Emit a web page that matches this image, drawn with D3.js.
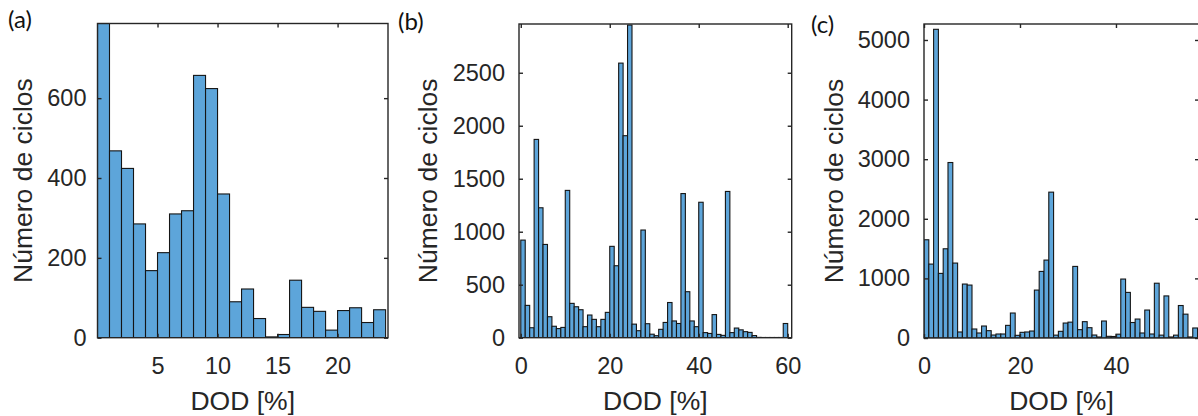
<!DOCTYPE html>
<html>
<head>
<meta charset="utf-8">
<script src="https://cdn.jsdelivr.net/npm/d3@7"></script>
<style>
  html, body { margin: 0; padding: 0; background: #fff; }
  svg { display: block; }
  .tick text { font-family: "Liberation Sans", Arial, Helvetica, sans-serif; fill: #262626; }
</style>
</head>
<body>
<svg id="chart" width="1198" height="416"></svg>
<script>
// ---------- DATA ----------
// Panel (a): histogram counts, bins of 1 % DOD starting at 0
const aCounts = [787, 468, 424, 285, 168, 213, 310, 318, 657, 624, 360, 90,
                 122, 48, 2, 8, 144, 76, 66, 19, 68, 75, 38, 70];
// Panel (b): histogram counts, bins of 1 % DOD starting at 0
const bCounts = [921, 305, 94, 1871, 1226, 880, 198, 108, 86, 97,
                 1390, 324, 292, 264, 104, 214, 173, 104, 173, 239,
                 862, 679, 2591, 1906, 2950, 128, 66, 1016, 132, 33,
                 19, 79, 144, 332, 158, 134, 1360, 434, 158, 104,
                 1278, 48, 40, 218, 31, 22, 1380, 48, 91, 74,
                 57, 50, 20, 3, 2, 2, 2, 2, 2, 134];
// Panel (c): histogram counts, bins of 1 % DOD starting at 0
const cCounts = [1648, 1240, 5179, 1084, 1497, 2944, 1257, 101, 905, 888,
                 151, 84, 201, 123, 50, 67, 67, 212, 419, 45,
                 95, 101, 117, 804, 1117, 1307, 2447, 48, 112, 251,
                 266, 1201, 140, 274, 173, 50, 17, 285, 28, 25,
                 64, 989, 765, 260, 318, 84, 469, 67, 919, 48,
                 706, 17, 48, 545, 400, 17, 168];
const binWidth = 1;

// Tick labels
const aXTicks = [5, 10, 15, 20];
const aYTicks = [0, 200, 400, 600];
const bXTicks = [0, 20, 40, 60];
const bYTicks = [0, 500, 1000, 1500, 2000, 2500];
const cXTicks = [0, 20, 40];
const cYTicks = [0, 1000, 2000, 3000, 4000, 5000];

const panelLetters = ["(a)", "(b)", "(c)"];
const xLabel = "DOD [%]";
const yLabel = "Número de ciclos";

// ---------- LAYOUT ----------
const panels = [
  { counts: aCounts, xt: aXTicks, yt: aYTicks, xd: [0, 24.2], yd: [0, 787],
    l: 97.5, r: 388, t: 23.5, b: 337.7, ypad: 11, ylabX: 31.5, letter: [8, 28] },
  { counts: bCounts, xt: bXTicks, yt: bYTicks, xd: [-0.4, 60.9], yd: [0, 2960],
    l: 519, r: 791.7, t: 24, b: 337.7, ypad: 14, ylabX: 436.5, letter: [398, 30] },
  { counts: cCounts, xt: cXTicks, yt: cYTicks, xd: [0, 57.3], yd: [0, 5268],
    l: 924, r: 1199, t: 24, b: 338, ypad: 14, ylabX: 843, letter: [811, 33] }
];

const svg = d3.select("#chart");
const FONT = '"Liberation Sans", Arial, Helvetica, sans-serif';
const AXC = "#262626";
const BAR = "#5DA5DA";
const fmt = d3.format("d");

panels.forEach((p, idx) => {
  const x = d3.scaleLinear().domain(p.xd).range([p.l, p.r]);
  const y = d3.scaleLinear().domain(p.yd).range([p.b, p.t]);
  const g = svg.append("g");

  const clipId = "clip" + idx;
  svg.append("clipPath").attr("id", clipId)
    .append("rect").attr("x", p.l).attr("y", p.t - 1)
    .attr("width", p.r - p.l).attr("height", p.b - p.t + 1);

  const bins = p.counts.map((v, i) => ({ x0: i * binWidth, x1: (i + 1) * binWidth, v }));

  g.append("g").attr("clip-path", `url(#${clipId})`)
    .selectAll("rect").data(bins).join("rect")
    .attr("x", d => x(d.x0))
    .attr("width", d => x(d.x1) - x(d.x0))
    .attr("y", d => y(d.v))
    .attr("height", d => y(0) - y(d.v))
    .attr("fill", BAR)
    .attr("stroke", "#151515")
    .attr("stroke-width", 1.1);

  const tickLen = 4;
  const gb = g.append("g").attr("transform", `translate(0,${p.b})`)
    .call(d3.axisBottom(x).tickValues(p.xt).tickSize(-tickLen).tickSizeOuter(0).tickPadding(19.5).tickFormat(fmt));
  const gt = g.append("g").attr("transform", `translate(0,${p.t})`)
    .call(d3.axisTop(x).tickValues(p.xt).tickSize(-tickLen).tickSizeOuter(0).tickFormat(""));
  const gl = g.append("g").attr("transform", `translate(${p.l},0)`)
    .call(d3.axisLeft(y).tickValues(p.yt).tickSize(-tickLen).tickSizeOuter(0).tickPadding(p.ypad).tickFormat(fmt));
  const gr = g.append("g").attr("transform", `translate(${p.r},0)`)
    .call(d3.axisRight(y).tickValues(p.yt).tickSize(-tickLen).tickSizeOuter(0).tickFormat(""));

  [gb, gt, gl, gr].forEach(a => {
    a.select(".domain").remove();
    a.selectAll(".tick line").attr("stroke", AXC).attr("stroke-width", 1.4);
    a.selectAll(".tick text").attr("font-size", 23.5).attr("font-family", FONT).attr("fill", AXC);
  });

  g.append("rect")
    .attr("x", p.l).attr("y", p.t)
    .attr("width", p.r - p.l).attr("height", p.b - p.t)
    .attr("fill", "none").attr("stroke", AXC).attr("stroke-width", 1.4);

  g.append("text")
    .attr("x", (p.l + p.r) / 2).attr("y", 410)
    .attr("text-anchor", "middle")
    .attr("font-family", FONT).attr("font-size", 26.5).attr("fill", AXC)
    .text(xLabel);

  g.append("text")
    .attr("transform", `translate(${p.ylabX},${(p.t + p.b) / 2}) rotate(-90)`)
    .attr("text-anchor", "middle")
    .attr("font-family", FONT).attr("font-size", 26.5).attr("fill", AXC)
    .text(yLabel);

  g.append("text")
    .attr("x", p.letter[0]).attr("y", p.letter[1])
    .attr("font-family", "Lato, 'Open Sans', sans-serif").attr("font-size", 24).attr("fill", "#111")
    .text(panelLetters[idx]);
});
</script>
</body>
</html>
